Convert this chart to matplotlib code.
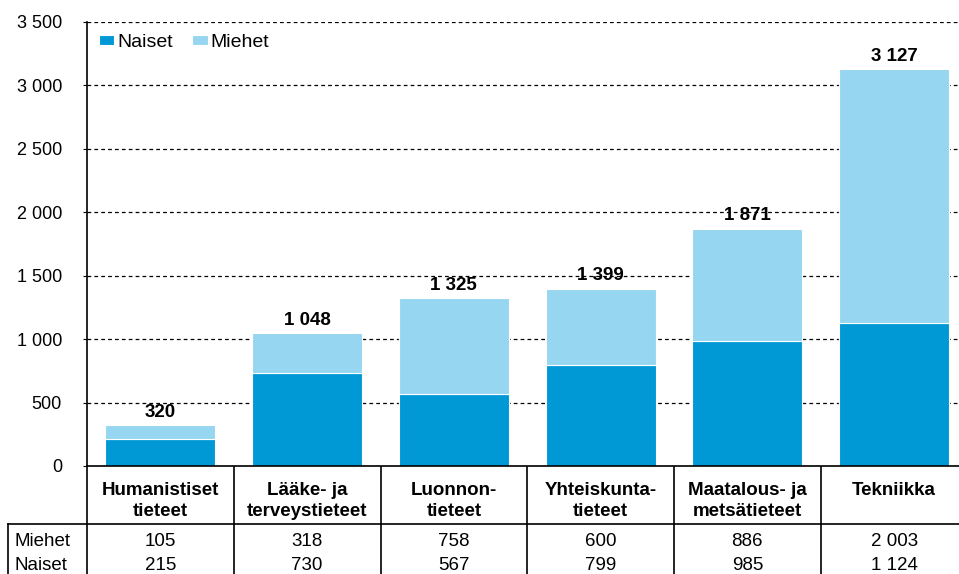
import matplotlib
matplotlib.use("Agg")
import matplotlib.pyplot as plt
from matplotlib.transforms import blended_transform_factory
from matplotlib.lines import Line2D

categories = ["Humanistiset\ntieteet", "Lääke- ja\nterveystieteet", "Luonnon-\ntieteet",
              "Yhteiskunta-\ntieteet", "Maatalous- ja\nmetsätieteet", "Tekniikka"]
naiset = [215, 730, 567, 799, 985, 1124]
miehet = [105, 318, 758, 600, 886, 2003]
yticks = [0, 500, 1000, 1500, 2000, 2500, 3000, 3500]

c_naiset = "#0099d6"
c_miehet = "#97d6f0"
FS = 13.5


def fmt(v):
    return f"{v:,}".replace(",", " ")


plt.rcParams["font.family"] = ["Liberation Sans", "DejaVu Sans"]

W, H = 959, 574
fig = plt.figure(figsize=(W / 100, H / 100), dpi=100)
left, top, bottom = 87, 22, 466
ax = fig.add_axes([left / W, 1 - bottom / H, (967.5 - left) / W, (bottom - top) / H])

x = range(len(categories))
totals = [n + m for n, m in zip(naiset, miehet)]
ax.bar(x, naiset, width=0.75, color=c_naiset, edgecolor="white", linewidth=0.8, label="Naiset")
ax.bar(x, miehet, bottom=naiset, width=0.75, color=c_miehet, edgecolor="white", linewidth=0.8, label="Miehet")
for xi, t in zip(x, totals):
    ax.annotate(fmt(t), (xi, t), xytext=(0, 3), textcoords="offset points",
                ha="center", va="bottom", fontsize=FS, fontweight="bold")

ax.set_xlim(-0.5, 5.5)
ax.set_ylim(0, 3500)
ax.set_yticks(yticks)
ax.set_yticklabels([fmt(v) for v in yticks], fontsize=13)
ax.tick_params(axis="y", length=3, pad=15)
ax.set_xticks([])
ax.yaxis.grid(True, linestyle=(0, (3, 2.5)), color="black", linewidth=0.9)
ax.set_axisbelow(True)
for s in ["top", "right"]:
    ax.spines[s].set_visible(False)
ax.spines["left"].set_linewidth(1.2)
ax.spines["bottom"].set_linewidth(1.2)

ax.legend(loc="upper left", bbox_to_anchor=(0.0, 1.0), frameon=False, ncol=2,
          fontsize=14, handlelength=0.8, handleheight=0.45, handletextpad=0.15,
          columnspacing=1.0, borderaxespad=0.2)

# table under the chart
tr = blended_transform_factory(ax.transData, fig.transFigure)
fy = lambda py: 1 - py / H
for xi, cat in zip(x, categories):
    ax.text(xi, fy(482), cat, transform=tr, ha="center", va="top", fontsize=FS,
            fontweight="bold", linespacing=1.3, clip_on=False)
    ax.text(xi, fy(541), fmt(miehet[xi]), transform=tr, ha="center", va="center",
            fontsize=FS, clip_on=False)
    ax.text(xi, fy(565), fmt(naiset[xi]), transform=tr, ha="center", va="center",
            fontsize=FS, clip_on=False)
fig.text(15 / W, fy(541), "Miehet", ha="left", va="center", fontsize=FS)
fig.text(15 / W, fy(565), "Naiset", ha="left", va="center", fontsize=FS)

for xi in [0.5, 1.5, 2.5, 3.5, 4.5]:
    ax.add_line(Line2D([xi, xi], [fy(467), 0], transform=tr, color="black",
                       linewidth=1.2, clip_on=False))
ax.add_line(Line2D([-0.5, -0.5], [fy(466), 0], transform=tr, color="black",
                   linewidth=1.2, clip_on=False))
fig.add_artist(Line2D([8 / W, 1], [fy(524), fy(524)], color="black", linewidth=1.2))
fig.add_artist(Line2D([8 / W, 8 / W], [fy(524), 0], color="black", linewidth=1.2))

fig.savefig("out.png", dpi=100)
